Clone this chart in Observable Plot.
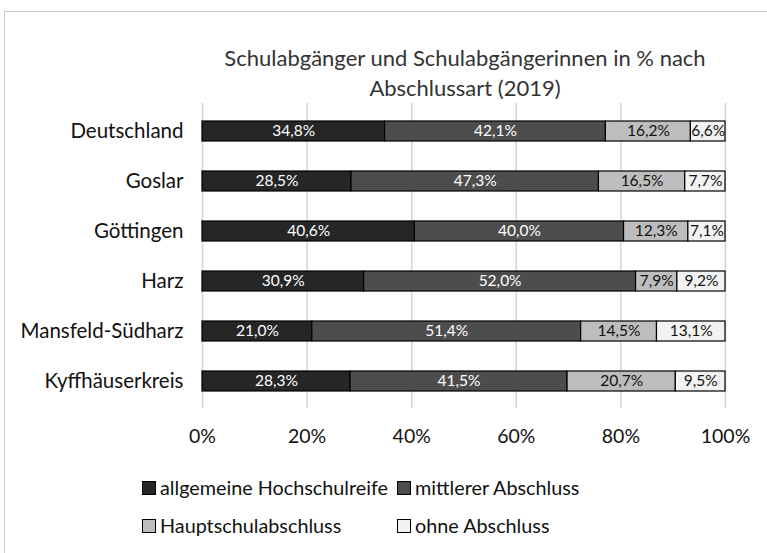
<!DOCTYPE html>
<html><head><meta charset="utf-8">
<script src="https://cdn.jsdelivr.net/npm/d3@7"></script>
<script src="https://cdn.jsdelivr.net/npm/@observablehq/plot@0.6"></script>
<style>
body{margin:0;background:#fff;overflow:hidden;}
#wrap{position:relative;width:767px;height:553px;overflow:hidden;font-family:Lato,sans-serif;}
#frame{position:absolute;left:4px;top:11px;width:800px;height:600px;border:1.5px solid #c8c8c8;box-sizing:border-box;}
#title{position:absolute;left:190px;width:550px;top:43px;text-align:center;font-size:22px;line-height:30px;color:#333;}
#chart{position:absolute;left:0;top:95px;}
.leg{position:absolute;font-size:19.8px;color:#111;white-space:nowrap;}
.sw{display:inline-block;width:12px;height:12px;border:1.3px solid #000;margin-right:4px;vertical-align:0px;}
</style></head>
<body><div id="wrap"><div id="frame"></div>
<div id="title">Schulabgänger und Schulabgängerinnen in % nach<br>Abschlussart (2019)</div>
<div id="chart"></div>
<div id="legend"></div>
</div>
<script>
const regions = ["Deutschland","Goslar","Göttingen","Harz","Mansfeld-Südharz","Kyffhäuserkreis"];
const series = ["allgemeine Hochschulreife","mittlerer Abschluss","Hauptschulabschluss","ohne Abschluss"];
const hochschulreife = [34.8,28.5,40.6,30.9,21.0,28.3];
const mittlerer = [42.1,47.3,40.0,52.0,51.4,41.5];
const hauptschule = [16.2,16.5,12.3,7.9,14.5,20.7];
const ohne = [6.6,7.7,7.1,9.2,13.1,9.5];
const xTicks = [0,0.2,0.4,0.6,0.8,1];
const colors = ["#262626","#4d4d4d","#bdbdbd","#f2f2f2"];
const textColors = ["#fff","#fff","#111","#111"];

const valueArrays = [hochschulreife, mittlerer, hauptschule, ohne];
const data = [];
regions.forEach((r,i)=>series.forEach((s,j)=>data.push({region:r, series:s, value:valueArrays[j][i], tc:textColors[j]})));

const fmt = v => v.toFixed(1).replace(".",",") + "%";

const chart = Plot.plot({
  width:767, height:360,
  marginLeft:202, marginRight:42, marginTop:8, marginBottom:47,
  style:{fontFamily:"Lato, sans-serif", fontSize:"20px", color:"#111", background:"transparent"},
  x:{domain:[0,1], label:null},
  y:{domain:regions, label:null, paddingInner:0.6, paddingOuter:0.3},
  color:{domain:series, range:colors},
  marks:[
    Plot.ruleX(xTicks, {stroke:"#d4d4d4", strokeWidth:1.5}),
    Plot.axisX({ticks:xTicks, tickFormat:d=>Math.round(d*100)+"%", tickSize:0, tickPadding:21, fontSize:19.5, fill:"#111"}),
    Plot.axisY({tickSize:0, tickPadding:19, fontSize:20.5, fill:"#111"}),
    Plot.barX(data, Plot.stackX({x:"value", y:"region", fill:"series", order:series, offset:"normalize", stroke:"#000", strokeWidth:1.2})),
    Plot.text(data, Plot.stackX({x:"value", y:"region", z:"series", order:series, offset:"normalize", text:d=>fmt(d.value), fill:"tc", fontSize:15.5})),
  ]
});
document.getElementById("chart").appendChild(chart);

const legPos = [[142,475],[397,475],[142,513],[397,513]];
const leg = document.getElementById("legend");
series.forEach((s,i)=>{
  const d = document.createElement("div");
  d.className="leg";
  d.style.left=legPos[i][0]+"px"; d.style.top=legPos[i][1]+"px";
  d.innerHTML = `<span class="sw" style="background:${colors[i]}"></span>${s}`;
  leg.appendChild(d);
});
</script></body></html>
